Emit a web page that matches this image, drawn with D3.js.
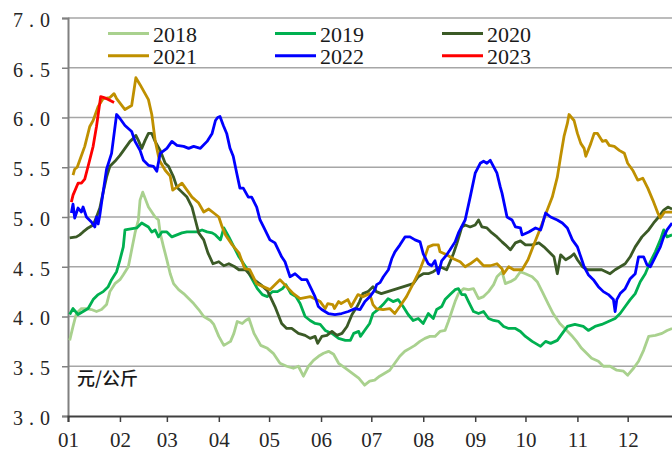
<!DOCTYPE html>
<html><head><meta charset="utf-8">
<script src="https://cdn.jsdelivr.net/npm/d3@7"></script>
<style>body{margin:0;background:#fff}svg{display:block}</style>
</head><body><svg id="c" width="672" height="454"></svg>
<script>
// day-of-year (0 = Jan 1), price (元/公斤)
const d2018 = [[1,3.76],[3,3.90],[5,4.03],[8,4.08],[11,4.08],[14,4.07],[17,4.05],[20,4.07],[23,4.12],[25,4.25],[28,4.33],[31,4.37],[33,4.42],[36,4.50],[38,4.67],[40,4.84],[42,4.97],[43,5.17],[44.6,5.25],[48,5.10],[52,5.00],[54,4.97],[55,4.84],[57,4.70],[59,4.57],[61,4.43],[63,4.33],[66,4.27],[69,4.23],[72,4.18],[75,4.13],[78,4.07],[81,4.00],[85,3.96],[87,3.92],[90,3.80],[93,3.71],[97,3.75],[99,3.83],[101,3.95],[104,3.93],[106,3.96],[108,3.98],[111,3.83],[115,3.71],[119,3.68],[122.5,3.63],[126.5,3.53],[130.5,3.50],[134.5,3.48],[137.5,3.50],[140.5,3.40],[143.5,3.50],[146.5,3.56],[149.5,3.60],[152.5,3.63],[155.5,3.65],[158.5,3.62],[161.5,3.53],[165.5,3.48],[169.5,3.43],[173.5,3.38],[177,3.31],[180,3.35],[183,3.36],[186,3.40],[189,3.43],[192,3.46],[195,3.53],[198,3.60],[201,3.65],[204,3.68],[207,3.71],[210,3.75],[213,3.78],[216,3.80],[219,3.80],[222,3.85],[225,3.86],[227,3.95],[229,4.05],[231,4.15],[233,4.23],[236,4.28],[239,4.27],[242,4.28],[245,4.18],[248,4.20],[251,4.25],[254,4.32],[256,4.40],[259,4.45],[261,4.33],[264,4.35],[267,4.38],[270,4.45],[273,4.43],[277,4.40],[280,4.35],[283,4.25],[286.5,4.13],[289.5,4.03],[293.5,3.93],[296.5,3.88],[300.5,3.81],[303.5,3.75],[306.5,3.68],[309.5,3.63],[312.5,3.58],[316.5,3.55],[319.5,3.50],[323.5,3.50],[327.5,3.46],[331.5,3.45],[334,3.41],[337.5,3.48],[340.5,3.55],[343.5,3.66],[346.5,3.80],[350.5,3.81],[354.5,3.83],[357.5,3.86],[360.5,3.88]];
const d2019 = [[1,4.02],[3,4.08],[6,4.02],[9,4.05],[12,4.08],[15,4.17],[18,4.22],[21,4.25],[24,4.30],[26,4.37],[29,4.45],[31,4.57],[33,4.70],[34,4.87],[41,4.89],[44,4.94],[46,4.92],[48,4.90],[50,4.85],[52,4.87],[54,4.80],[56,4.85],[59,4.85],[62,4.80],[65,4.82],[68,4.84],[71,4.85],[74,4.85],[77,4.85],[80,4.87],[83,4.85],[86,4.84],[88,4.82],[91,4.77],[93,4.89],[96,4.80],[99,4.70],[102,4.60],[106,4.50],[110,4.37],[113,4.28],[116,4.22],[119,4.20],[122,4.25],[125,4.25],[128,4.28],[130,4.32],[133,4.23],[136,4.20],[138.5,4.13],[141.5,4.00],[144.5,3.96],[147.5,3.93],[150.5,3.92],[153.5,3.86],[157.5,3.83],[161.5,3.78],[165.5,3.76],[168.5,3.76],[170.5,3.83],[173.5,3.85],[174.5,3.80],[177,3.86],[180,3.93],[182,4.03],[185,4.07],[188,4.12],[191,4.18],[194,4.15],[197,4.17],[200,4.10],[203,4.02],[206,3.96],[209,3.98],[212,3.93],[215,4.03],[218,3.98],[220,4.07],[223,4.10],[225,4.17],[228,4.22],[231,4.27],[233,4.28],[235,4.22],[237,4.22],[239,4.15],[242,4.05],[245,4.03],[248,4.05],[251,3.98],[254,3.96],[257,3.95],[260,3.90],[263,3.88],[267,3.88],[270,3.85],[273,3.80],[277,3.75],[282,3.70],[285,3.75],[288,3.73],[292,3.76],[295,3.83],[298,3.90],[302.5,3.92],[307.5,3.90],[310.5,3.86],[314.5,3.90],[318.5,3.92],[322.5,3.95],[326.5,3.98],[329.5,4.03],[332.5,4.10],[335.5,4.17],[338.5,4.23],[341.5,4.35],[344.5,4.43],[347.5,4.55],[350.5,4.65],[353.5,4.77],[355.5,4.87],[357.5,4.80],[360.5,4.82]];
const d2020 = [[1,4.79],[5,4.80],[7,4.82],[9,4.85],[12,4.89],[15,4.92],[17,5.00],[19,5.09],[21,5.25],[23,5.40],[25,5.51],[28,5.56],[31,5.62],[34,5.69],[37,5.76],[39,5.79],[40.5,5.82],[42,5.77],[44,5.69],[46,5.77],[48,5.84],[50,5.84],[52,5.76],[55,5.67],[58,5.54],[60,5.51],[63,5.40],[65,5.30],[68,5.25],[71,5.20],[74,5.10],[76,4.97],[78,4.84],[81,4.77],[83.5,4.64],[86.5,4.53],[90,4.55],[93,4.51],[96,4.53],[99.5,4.50],[102,4.47],[106,4.47],[108,4.43],[111,4.37],[115,4.32],[119,4.26],[123.5,4.10],[127.5,3.93],[130.5,3.88],[133.5,3.88],[137.5,3.83],[141.5,3.81],[144.5,3.78],[147.5,3.80],[149,3.73],[151.5,3.80],[154.5,3.81],[157.5,3.85],[160.5,3.81],[163.5,3.83],[166.5,3.90],[169.5,4.02],[172.5,4.10],[174,4.15],[176,4.23],[179,4.25],[182,4.30],[184,4.25],[187,4.23],[206,4.33],[209,4.40],[212,4.43],[215,4.43],[218,4.45],[222,4.50],[226,4.47],[228,4.55],[230,4.63],[232,4.73],[234,4.84],[235,4.90],[237,4.92],[240,4.90],[243,4.92],[245,4.97],[247,4.90],[250,4.89],[253,4.84],[256,4.80],[259,4.75],[261,4.72],[264,4.67],[267,4.74],[270,4.76],[273,4.72],[277,4.72],[281,4.74],[284,4.70],[287,4.65],[290,4.60],[292,4.43],[294,4.62],[297,4.57],[300,4.60],[302,4.63],[304,4.57],[307,4.50],[310,4.47],[315,4.47],[318.5,4.47],[323.5,4.43],[326.5,4.47],[329.5,4.50],[332.5,4.53],[335.5,4.60],[338.5,4.70],[342.5,4.80],[346.5,4.87],[349.5,4.94],[352.5,5.00],[355.5,5.07],[358,5.10],[360.5,5.08]];
const d2021 = [[3,5.42],[4,5.48],[5.5,5.50],[7,5.57],[10,5.71],[13,5.91],[15,5.97],[18,6.11],[21,6.19],[25,6.20],[27.5,6.24],[29,6.19],[34,6.08],[38,6.12],[40.5,6.40],[43,6.33],[48,6.18],[50,6.03],[52,5.77],[54.5,5.57],[58,5.47],[61,5.41],[62.5,5.27],[65,5.30],[68,5.34],[71,5.27],[74,5.20],[78,5.14],[81,5.05],[84,5.08],[87,5.04],[90,5.00],[92,4.90],[94,4.82],[98,4.72],[102,4.64],[105.5,4.48],[108.5,4.47],[110.5,4.40],[112.5,4.33],[116.5,4.30],[120.5,4.27],[126.5,4.37],[130.5,4.30],[134.5,4.23],[138.5,4.18],[144.5,4.20],[150.5,4.15],[153.5,4.08],[155,4.13],[158,4.12],[159,4.08],[161.5,4.15],[163,4.13],[167,4.17],[169,4.10],[173,4.22],[176,4.20],[180,4.23],[182,4.12],[184,4.08],[188,4.07],[192,4.08],[195,4.03],[198,4.10],[202,4.20],[206,4.33],[210,4.47],[213,4.60],[215,4.70],[218,4.72],[221,4.72],[222,4.65],[226,4.62],[230,4.58],[234,4.55],[237,4.50],[240,4.53],[244,4.58],[248,4.51],[252,4.51],[256,4.53],[259,4.48],[260,4.43],[263,4.50],[266,4.47],[271,4.47],[274.5,4.57],[277.5,4.70],[281.5,4.87],[286,5.07],[289,5.20],[292,5.40],[294,5.61],[296,5.81],[298,5.94],[299,6.03],[302,5.97],[304,5.84],[306,5.74],[308,5.69],[309,5.61],[312,5.74],[314,5.84],[316,5.84],[319,5.76],[321,5.77],[323,5.72],[326,5.71],[329,5.67],[332,5.64],[334,5.54],[337,5.47],[340,5.37],[343,5.39],[346,5.29],[349,5.17],[352,5.04],[353.5,4.99],[356,5.05],[360.5,5.05]];
const d2022 = [[2,5.04],[3,5.13],[4,4.99],[6,5.09],[8,5.05],[9,5.10],[11,5.00],[14,4.95],[16,4.90],[17,5.00],[18,4.93],[19,5.02],[20,5.14],[23,5.48],[26,5.64],[29,6.03],[31,5.99],[34,5.92],[38,5.86],[40,5.76],[43,5.67],[45,5.57],[48,5.52],[51,5.51],[53,5.46],[55,5.64],[59,5.69],[62,5.76],[65,5.72],[69,5.71],[72,5.69],[75,5.71],[79,5.69],[83,5.76],[86,5.84],[88,5.97],[89.3,6.00],[90.7,6.01],[92.7,5.92],[94.7,5.84],[96.7,5.69],[98.6,5.61],[100.7,5.44],[102.6,5.29],[104.6,5.29],[107.6,5.20],[109.6,5.20],[112.6,5.10],[114.6,4.97],[117,4.89],[120.5,4.77],[123.5,4.74],[127.5,4.60],[129.5,4.55],[132.5,4.40],[135.5,4.43],[139.5,4.37],[142.5,4.37],[145.4,4.27],[147.4,4.20],[149.4,4.10],[151.4,4.07],[155.3,4.03],[159.3,4.02],[163.3,4.03],[167.3,4.05],[171.3,4.08],[174.3,4.07],[177.2,4.15],[180.2,4.20],[183.2,4.27],[184.2,4.32],[186.2,4.34],[188.2,4.40],[191.2,4.47],[193.2,4.58],[195.1,4.65],[198.1,4.72],[201.1,4.80],[204.1,4.80],[207.1,4.77],[210.1,4.75],[212,4.63],[215,4.53],[217,4.51],[219,4.56],[221,4.43],[223,4.56],[226,4.62],[228,4.67],[231,4.75],[233,4.84],[237,4.97],[240,5.20],[243,5.44],[246,5.54],[248,5.56],[250,5.54],[252,5.57],[256,5.44],[258,5.30],[259,5.24],[262,5.00],[265,4.97],[267,4.90],[270,4.89],[271,4.82],[275,4.85],[279,4.89],[282,4.87],[283,4.92],[285,5.04],[288,5.00],[292,4.97],[295,4.94],[298,4.89],[301,4.77],[304,4.70],[306,4.60],[308,4.50],[310.5,4.42],[313.5,4.37],[316.5,4.30],[319.5,4.25],[322.5,4.22],[325.5,4.17],[326.5,4.05],[327.5,4.17],[329.5,4.23],[332.5,4.28],[335.5,4.38],[338.5,4.43],[340.5,4.60],[343.5,4.60],[345.5,4.52],[347.5,4.50],[350.5,4.60],[353.5,4.70],[355.5,4.80],[357.5,4.87],[360.5,4.94]];
const d2023 = [[2,5.15],[3,5.22],[6,5.34],[8,5.34],[10,5.38],[12,5.51],[15,5.71],[17,5.91],[19.5,6.21],[21.5,6.20],[24,6.18],[27.5,6.15]];

const seriesNames = ["2018","2019","2020","2021","2022","2023"];
const seriesData = [d2018, d2019, d2020, d2021, d2022, d2023];
const seriesColors = ["#a9d18e","#00b050","#3b5a26","#bf9000","#0000ff","#ff0000"];
const monthStarts = [0,31,59,90,120,151,181,212,243,273,304,334];
const monthLabels = ["01","02","03","04","05","06","07","08","09","10","11","12"];
const yTicks = [3.0,3.5,4.0,4.5,5.0,5.5,6.0,6.5,7.0];
const unitLabel = "元/公斤";

const serif = '"Liberation Serif","DejaVu Serif",serif';
const svg = d3.select("#c");
const x = d3.scaleLinear().domain([0,365]).range([68, 68 + 365*1.6757]);
const y = d3.scaleLinear().domain([3,7]).range([416,18]);

// gridlines
svg.append("g").selectAll("line").data(yTicks.filter(v=>v>3)).join("line")
  .attr("x1",68).attr("x2",672).attr("y1",d=>y(d)).attr("y2",d=>y(d))
  .attr("stroke","#a6a6a6").attr("stroke-width",1.3);

// y axis
const yAxis = svg.append("g").attr("transform","translate(68,0)")
  .call(d3.axisLeft(y).tickValues(yTicks).tickSize(6).tickFormat(d3.format(".1f")));
yAxis.select(".domain").attr("stroke","#808080").attr("stroke-width",2);
yAxis.selectAll(".tick line").attr("stroke","#808080").attr("stroke-width",1.5);
yAxis.selectAll(".tick text").attr("text-anchor","start").attr("x",-55).attr("dy","0.62em")
  .attr("font-size",20).attr("fill","#262626").style("font-family",serif)
  .attr("letter-spacing","6px").attr("transform","translate(0,-4)");

// x axis
const xAxis = svg.append("g").attr("transform","translate(0,416)")
  .call(d3.axisBottom(x).tickValues(monthStarts).tickSize(6).tickFormat((d,i)=>monthLabels[i]));
xAxis.select(".domain").attr("stroke","#404040").attr("stroke-width",2);
xAxis.selectAll(".tick line").attr("stroke","#404040").attr("stroke-width",1.5);
xAxis.selectAll(".tick text").attr("y",16).attr("font-size",21).attr("fill","#262626")
  .style("font-family",serif);

// lines
const line = d3.line().x(d=>x(d[0])).y(d=>y(d[1]));
svg.append("g").selectAll("path").data(seriesData).join("path")
  .attr("d",line).attr("fill","none")
  .attr("stroke",(d,i)=>seriesColors[i]).attr("stroke-width",2.8)
  .attr("stroke-linejoin","round");

// legend
const lg = svg.append("g");
seriesNames.forEach((n,i)=>{
  const col = i%3, row = Math.floor(i/3);
  const lx = 108 + col*167, ly = 33.5 + row*22.3;
  lg.append("line").attr("x1",lx).attr("x2",lx+41).attr("y1",ly).attr("y2",ly)
    .attr("stroke",seriesColors[i]).attr("stroke-width",3);
  lg.append("text").attr("x",lx+45).attr("y",ly+8).style("font-family",serif)
    .attr("font-size",22).attr("fill","#1a1a1a").text(n);
});

// unit
svg.append("text").attr("x",77).attr("y",385).style("font-family",'"Noto Sans CJK SC","Noto Sans",sans-serif')
  .attr("font-size",18).attr("font-weight",500).attr("fill","#1a1a1a").text(unitLabel);
</script></body></html>
